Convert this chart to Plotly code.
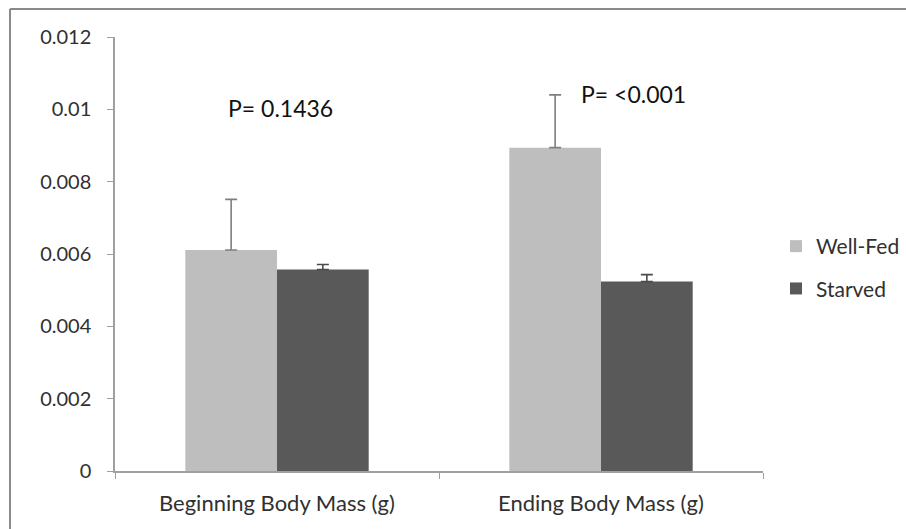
import plotly.graph_objects as go

# Mean body mass (g) and standard error for each feeding group
categories = ["Beginning Body Mass (g)", "Ending Body Mass (g)"]
well_fed_mean = [0.00611, 0.00894]
well_fed_err = [0.00140, 0.00146]
starved_mean = [0.00557, 0.00524]
starved_err = [0.00014, 0.00019]
y_ticks = [0, 0.002, 0.004, 0.006, 0.008, 0.01, 0.012]
y_tick_labels = ["0", "0.002", "0.004", "0.006", "0.008", "0.01", "0.012"]
p_values = ["P= 0.1436", "P= <0.001"]
p_label_y = [0.01004, 0.01042]

FONT = "Lato, 'Open Sans', sans-serif"
W, H = 906, 529
L, R, T, B = 115, 143, 37, 58

fig = go.Figure()
fig.add_trace(go.Bar(
    name="Well-Fed", x=categories, y=well_fed_mean, legendgroup="wf",
    marker=dict(color="#BEBEBE", line=dict(width=0)),
    error_y=dict(type="data", array=well_fed_err, arrayminus=[0, 0],
                 symmetric=False, color="#7F7F7F", thickness=1.6, width=6),
))
fig.add_trace(go.Bar(
    name="Starved", x=categories, y=starved_mean, legendgroup="st",
    marker=dict(color="#595959", line=dict(width=0)),
    error_y=dict(type="data", array=starved_err, arrayminus=[0, 0],
                 symmetric=False, color="#4A4A4A", thickness=1.6, width=6),
))

# p-value labels above each group
p_x_offsets = [0.01, 0.1]
for i, (txt, yv) in enumerate(zip(p_values, p_label_y)):
    fig.add_annotation(x=i + p_x_offsets[i], y=yv, xref="x", yref="y",
                       text=txt, showarrow=False, xanchor="center", yanchor="middle",
                       font=dict(family=FONT, size=23, color="#111111"))

pw = W - L - R
ph = H - T - B
# chart-area border: only the top and left edges fall inside the page
bx0 = (10 - L) / pw
by1 = 1 + (T - 9) / ph
fig.add_shape(type="line", xref="paper", yref="paper",
              x0=bx0, x1=(W + 10 - L) / pw, y0=by1, y1=by1,
              line=dict(color="#8A8A8A", width=2), layer="below")
fig.add_shape(type="line", xref="paper", yref="paper",
              x0=bx0, x1=bx0, y0=by1, y1=-(H + 10 - (H - B)) / ph,
              line=dict(color="#8A8A8A", width=2), layer="below")

fig.update_layout(
    width=W, height=H,
    margin=dict(l=L, r=R, t=T, b=B, pad=0, autoexpand=False),
    paper_bgcolor="white", plot_bgcolor="white",
    barmode="group", bargap=0.434, bargroupgap=0,
    font=dict(family=FONT, size=18, color="#404040"),
    showlegend=True,
    legend=dict(x=(776 - L) / pw, y=(H - B - 226) / ph, xanchor="left", yanchor="top",
                font=dict(family=FONT, size=21, color="#303030"),
                itemwidth=30, tracegroupgap=12, bgcolor="rgba(0,0,0,0)"),
)
fig.update_xaxes(
    range=[-0.5, 1.5], showline=True, linecolor="#A0A0A0", linewidth=1.5,
    ticks="outside", ticklen=6, tickcolor="#A0A0A0",
    tickmode="array", tickvals=[-0.5, 0.5, 1.5], ticktext=["", "", ""],
    showgrid=False, zeroline=False,
)
for i, cat in enumerate(categories):
    fig.add_annotation(x=i, y=0, xref="x", yref="paper", yshift=-31, yanchor="middle",
                       text=cat, showarrow=False,
                       font=dict(family=FONT, size=22, color="#303030"))
fig.update_yaxes(
    range=[0, 0.012], showline=True, linecolor="#A0A0A0", linewidth=1.5,
    ticks="outside", ticklen=6, tickcolor="#A0A0A0",
    tickvals=y_ticks, ticktext=y_tick_labels, ticklabelstandoff=12,
    tickfont=dict(family=FONT, size=20, color="#303030"),
    showgrid=False, zeroline=False,
)

fig.write_html("out.html")
